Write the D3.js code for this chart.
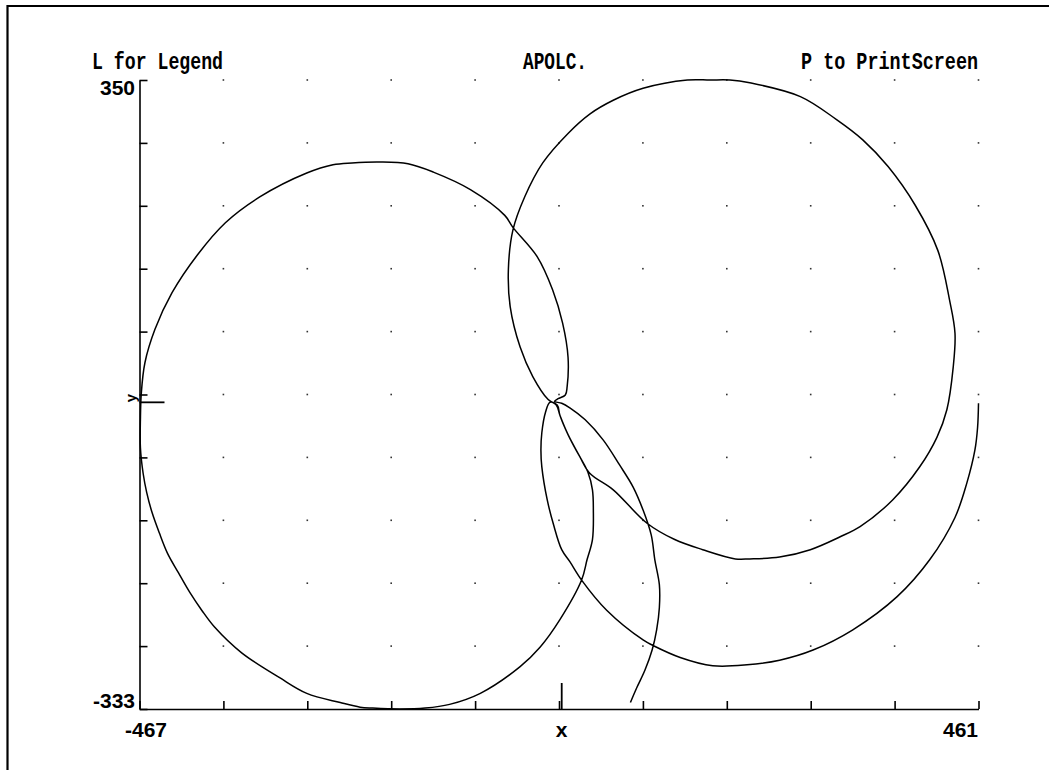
<!DOCTYPE html>
<html>
<head>
<meta charset="utf-8">
<script src="https://cdn.jsdelivr.net/npm/d3@7"></script>
<style>
  html, body { margin: 0; padding: 0; background: #fff; }
  svg { display: block; }
</style>
</head>
<body>
<svg id="chart" width="1049" height="770"></svg>
<script>
// Plot window and labels
const xDomain = [-467, 461];
const yDomain = [-333, 350];
const xTickLabels = ["-467", "461"];
const yTickLabels = ["-333", "350"];
const tickDivisions = 10;
const headerTexts = ["L for Legend", "APOLC.", "P to PrintScreen"];
const axisNames = ["x", "y"];

// Trajectory in plot units, in flight order: inbound arc, west loop,
// east loop, outbound arc. Every loop passes close to the origin.
const approachArc = [
  [76,-326],[83,-310],[92,-291],[100,-269],[105,-247],[108,-223],[108,-198],
  [103,-171],[99,-144],[90,-117],[79,-92],[64,-68],[46,-41],[26,-19],[9,-6],
  [0,-1],[-8,1],[-4,4],[4,8]
];
const westLoop = [
  [6,17],[7,49],[1,86],[-10,122],[-27,158],[-54,190],[-63,203],[-101,231],
  [-142,250],[-170,259],[-201,261],[-232,260],[-253,258],[-282,249],[-334,223],
  [-372,195],[-403,160],[-431,119],[-450,79],[-461,43],[-465,10],[-466,-19],
  [-466,-49],[-463,-77],[-459,-98],[-453,-120],[-445,-142],[-436,-164],
  [-424,-185],[-411,-207],[-398,-226],[-384,-244],[-354,-272],[-312,-299],
  [-282,-316],[-245,-326],[-223,-331],[-209,-332],[-179,-333],[-151,-332],
  [-124,-328],[-90,-316],[-46,-287],[-24,-266],[-2,-236],[22,-193],[28,-171],
  [34,-149],[35,-117],[34,-95],[29,-76],[20,-59],[7,-35],[-2,-14],[-6,-3]
];
const eastLoop = [
  [-15,3],[-32,28],[-46,60],[-57,104],[-59,144],[-54,187],[-41,223],[-21,260],
  [7,292],[31,313],[57,328],[90,341],[139,350],[164,350],[186,350],[208,347],[264,332],
  [304,307],[333,285],[361,256],[391,214],[416,165],[429,111],[435,75],[433,38],
  [426,-8],[415,-38],[396,-70],[366,-106],[330,-135],[308,-146],[275,-160],
  [241,-168],[208,-170],[192,-170],[156,-160],[125,-149],[94,-131],[57,-95],
  [31,-77],[20,-59],[7,-35],[-2,-14],[-5,-3]
];
const departureArc = [
  [-13,0],[-18,-11],[-22,-33],[-23,-52],[-22,-70],[-16,-106],[-9,-133],[0,-160],
  [9,-173],[22,-193],[50,-226],[90,-258],[101,-264],[131,-277],[167,-286],
  [205,-285],[241,-280],[278,-269],[322,-247],[371,-211],[407,-171],[435,-125],
  [448,-88],[457,-52],[460,-27],[461,-1]
];

const svg = d3.select("#chart");
const W = 1049, H = 770;
const plot = { left: 139.5, right: 978.5, top: 80, bottom: 709 };

svg.append("rect").attr("width", W).attr("height", H).attr("fill", "#fff");

// screen frame (top and left edges)
svg.append("path")
  .attr("d", `M7.5,${H} L7.5,6 L${W},6`)
  .attr("fill", "none").attr("stroke", "#000").attr("stroke-width", 2.2);

const x = d3.scaleLinear().domain(xDomain).range([plot.left, plot.right]);
const y = d3.scaleLinear().domain(yDomain).range([plot.bottom, plot.top]);

const xTicks = d3.range(tickDivisions + 1).map(i => xDomain[0] + i * (xDomain[1] - xDomain[0]) / tickDivisions);
const yTicks = d3.range(tickDivisions + 1).map(i => yDomain[0] + i * (yDomain[1] - yDomain[0]) / tickDivisions);

// dotted grid at tick intersections
const dots = [];
xTicks.slice(1).forEach(xv => yTicks.slice(1).forEach(yv => dots.push([xv, yv])));
svg.append("g").selectAll("rect").data(dots).join("rect")
  .attr("x", d => x(d[0]) - 0.8).attr("y", d => y(d[1]) - 0.8)
  .attr("width", 1.6).attr("height", 1.6).attr("fill", "#333");

// axes
const yAxis = d3.axisRight(y).tickValues(yTicks).tickSize(8).tickSizeOuter(0).tickFormat("");
const xAxis = d3.axisTop(x).tickValues(xTicks).tickSize(8).tickSizeOuter(0).tickFormat("");
const gy = svg.append("g").attr("transform", `translate(${plot.left},0)`).call(yAxis);
const gx = svg.append("g").attr("transform", `translate(0,${plot.bottom})`).call(xAxis);
[gy, gx].forEach(g => {
  g.selectAll("path, line").attr("stroke", "#000").attr("stroke-width", 1.6);
});

// origin markers
svg.append("line")
  .attr("x1", x(xDomain[0])).attr("x2", x(xDomain[0]) + 25)
  .attr("y1", y(0)).attr("y2", y(0))
  .attr("stroke", "#000").attr("stroke-width", 1.8);
svg.append("line")
  .attr("x1", x(0)).attr("x2", x(0))
  .attr("y1", y(yDomain[0])).attr("y2", y(yDomain[0]) - 26)
  .attr("stroke", "#000").attr("stroke-width", 1.8);

// trajectory
const line = d3.line()
  .x(d => x(d[0])).y(d => y(d[1]))
  .curve(d3.curveCatmullRom.alpha(0.5));
svg.append("path")
  .datum(approachArc.concat(westLoop, eastLoop, departureArc))
  .attr("d", line)
  .attr("fill", "none").attr("stroke", "#000")
  .attr("stroke-width", 1.5).attr("stroke-linejoin", "round");

// header line
const headFont = "'Liberation Mono', 'DejaVu Sans Mono', monospace";
const headers = [
  { t: headerTexts[0], x: 92, len: 131 },
  { t: headerTexts[1], x: 523, len: 64 },
  { t: headerTexts[2], x: 801, len: 177 }
];
svg.append("g").selectAll("text").data(headers).join("text")
  .attr("x", d => d.x).attr("y", 69)
  .attr("textLength", d => d.len).attr("lengthAdjust", "spacingAndGlyphs")
  .attr("font-family", headFont).attr("font-size", 24).attr("font-weight", "bold")
  .attr("fill", "#000")
  .text(d => d.t);

// axis labels
const labFont = "'Liberation Sans', Arial, sans-serif";
function label(txt, px, py, anchor) {
  return svg.append("text")
    .attr("x", px).attr("y", py)
    .attr("text-anchor", anchor)
    .attr("font-family", labFont).attr("font-size", 21).attr("font-weight", "bold")
    .attr("fill", "#000").text(txt);
}
label(yTickLabels[1], 135, 95, "end");
label(yTickLabels[0], 135, 708, "end");
label(xTickLabels[0], 125, 737, "start");
label(xTickLabels[1], 978, 737, "end");
label(axisNames[0], x(0), 737, "middle");

svg.append("text")
  .attr("transform", `translate(136,398) rotate(-90)`)
  .attr("text-anchor", "middle")
  .attr("font-family", labFont).attr("font-size", 15).attr("font-weight", "bold")
  .attr("fill", "#000").text(axisNames[1]);
</script>
</body>
</html>
